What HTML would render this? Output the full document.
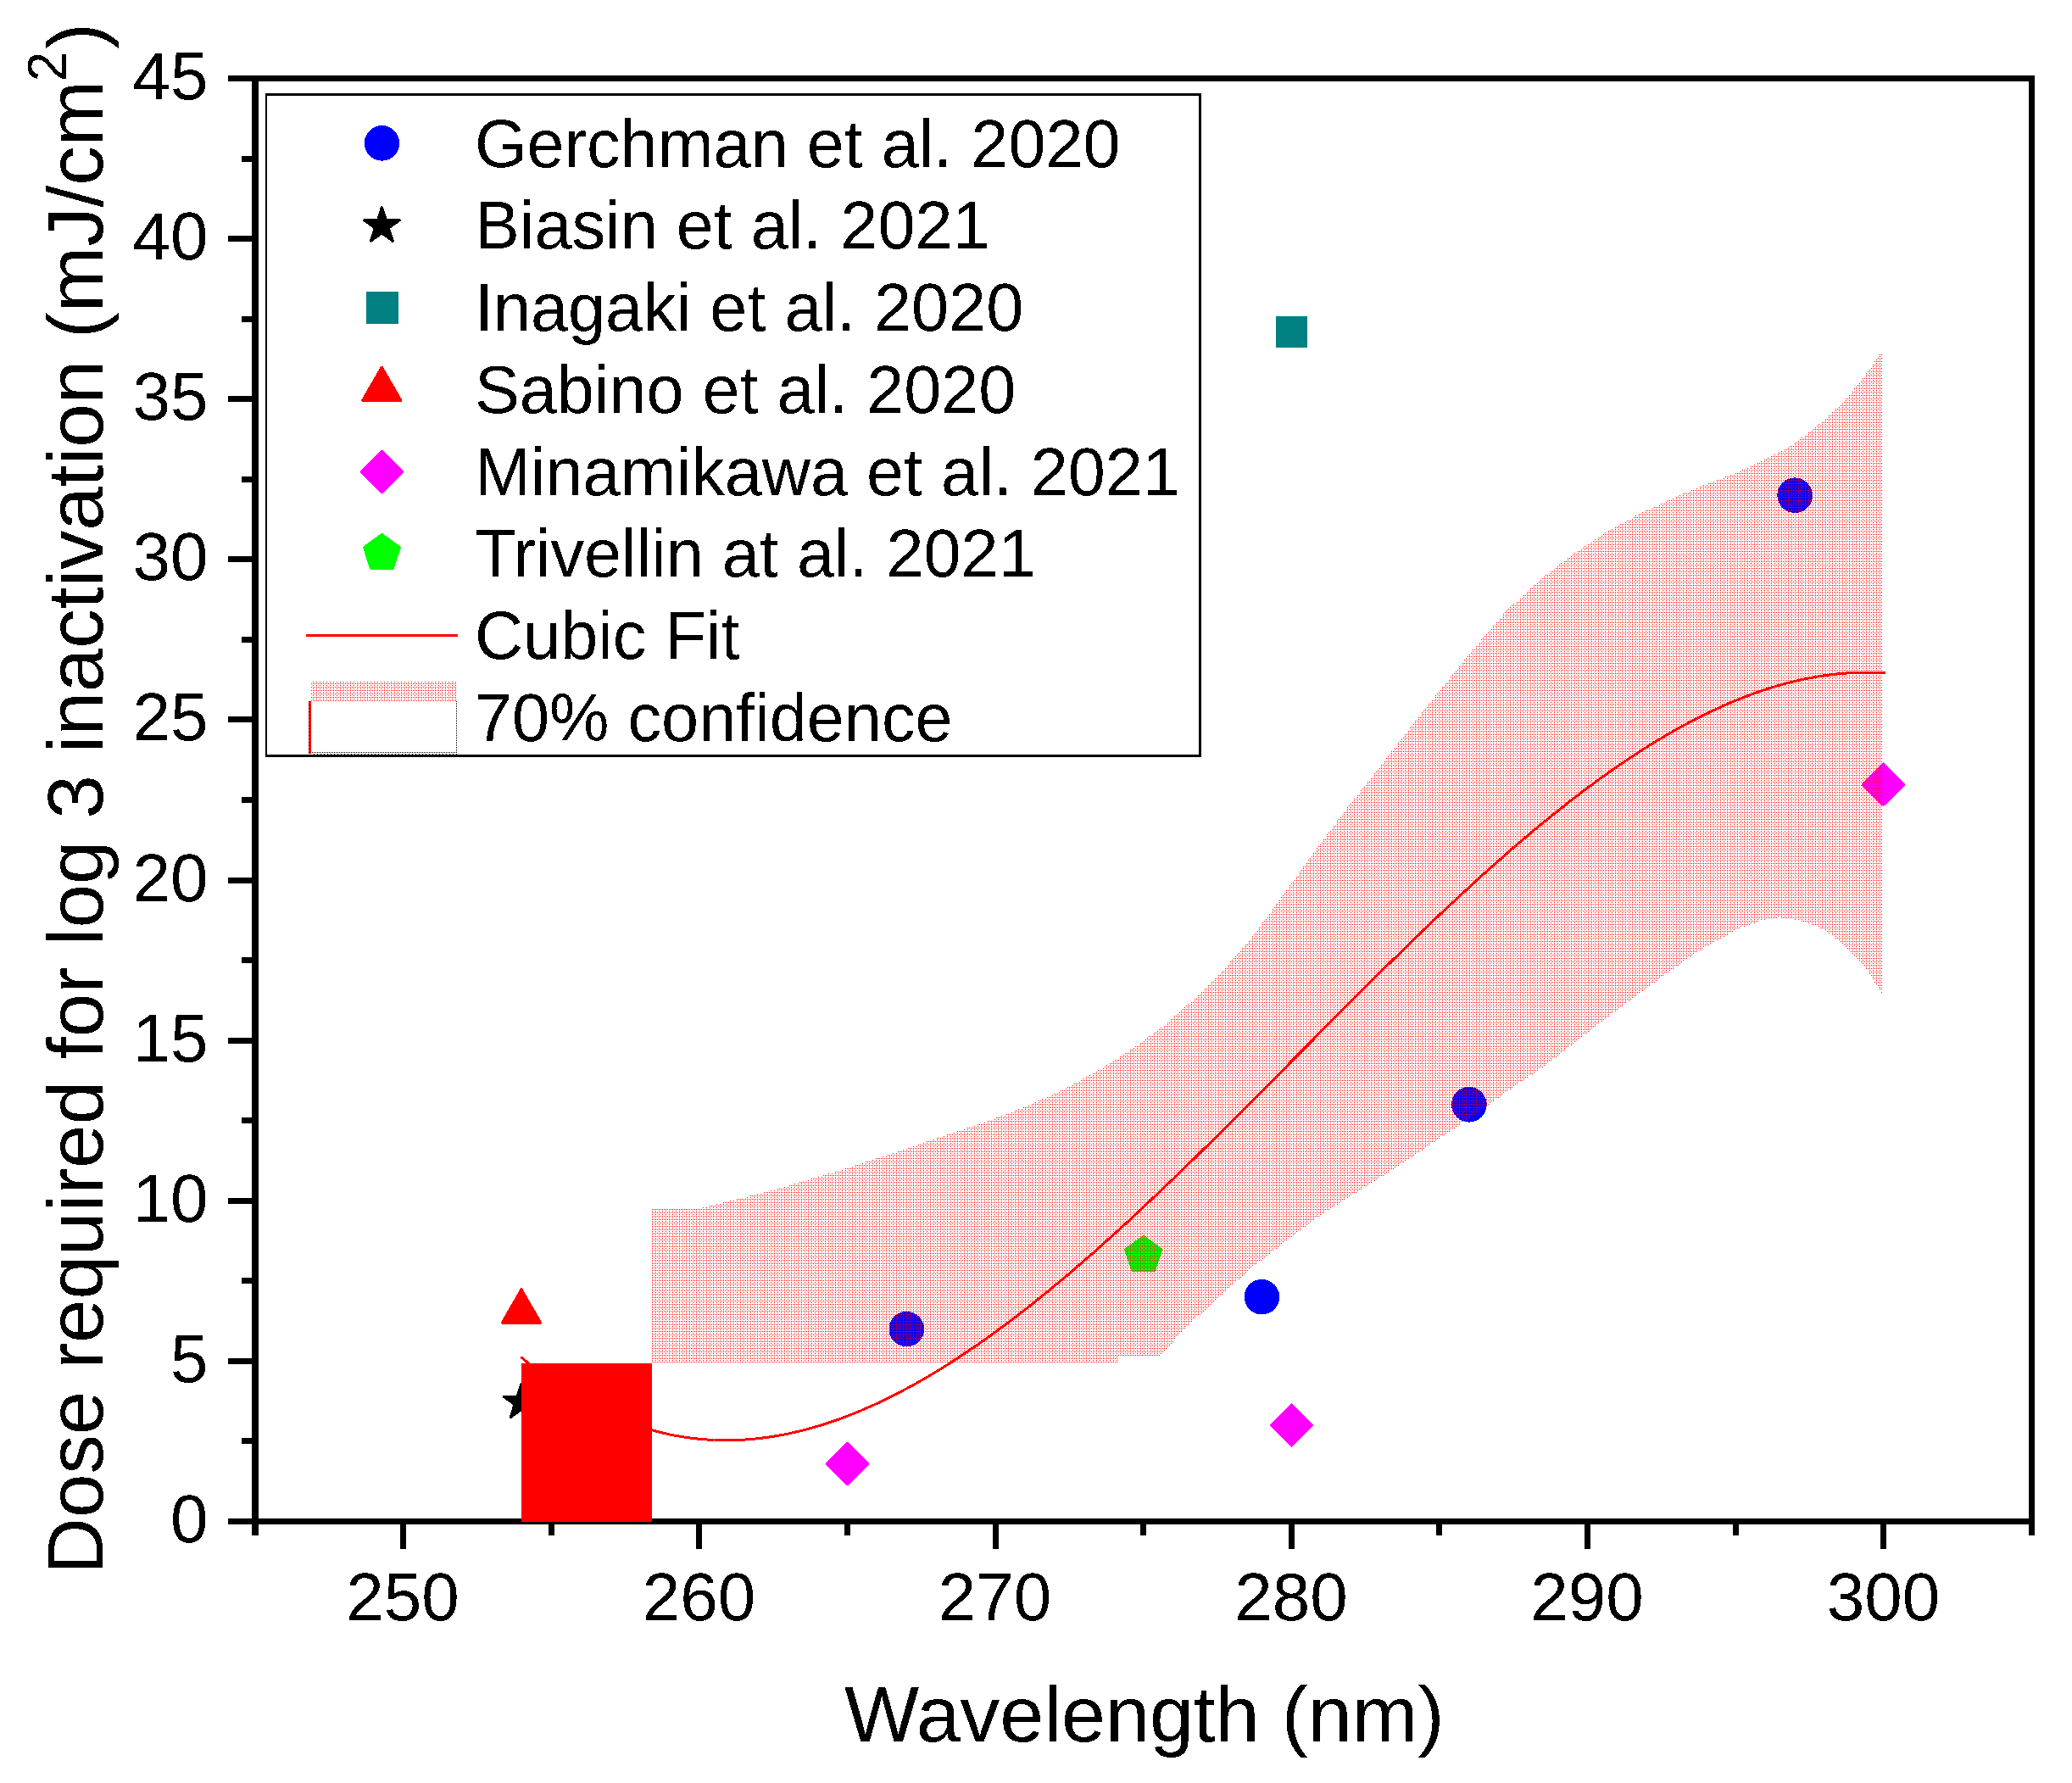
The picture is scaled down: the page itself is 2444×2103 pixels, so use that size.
<!DOCTYPE html>
<html lang="en"><head><meta charset="utf-8"><title>Dose required for log 3 inactivation vs wavelength</title>
<style>html,body{margin:0;padding:0;background:#fff}body{width:2444px;height:2103px;overflow:hidden}svg{display:block}text{font-family:'Liberation Sans', sans-serif;fill:#000}</style></head><body>
<svg width="2444" height="2103" viewBox="0 0 2444 2103">
<defs><pattern id="dots" x="0" y="0" width="4" height="4" patternUnits="userSpaceOnUse"><g fill="#ff0000" shape-rendering="crispEdges"><rect x="1" y="0" width="1" height="1"/><rect x="1" y="2" width="1" height="1"/><rect x="3" y="2" width="1" height="1"/></g></pattern><filter id="alias" x="-5%" y="-5%" width="110%" height="110%" color-interpolation-filters="sRGB"><feComponentTransfer><feFuncA type="discrete" tableValues="0 1"/></feComponentTransfer></filter></defs>
<rect width="2444" height="2103" fill="#fff"/>
<g id="axes" fill="#000" shape-rendering="crispEdges">
<rect x="297" y="89" width="8" height="1722"/>
<rect x="2393" y="89" width="7" height="1722"/>
<rect x="269" y="89" width="2131" height="7"/>
<rect x="269" y="1791" width="2131" height="7"/>
<rect x="285" y="1696" width="14" height="7"/>
<rect x="269" y="1602" width="30" height="7"/>
<rect x="285" y="1507" width="14" height="7"/>
<rect x="269" y="1413" width="30" height="7"/>
<rect x="285" y="1318" width="14" height="7"/>
<rect x="269" y="1224" width="30" height="7"/>
<rect x="285" y="1129" width="14" height="7"/>
<rect x="269" y="1035" width="30" height="7"/>
<rect x="285" y="940" width="14" height="7"/>
<rect x="269" y="845" width="30" height="7"/>
<rect x="285" y="751" width="14" height="7"/>
<rect x="269" y="656" width="30" height="7"/>
<rect x="285" y="562" width="14" height="7"/>
<rect x="269" y="467" width="30" height="7"/>
<rect x="285" y="373" width="14" height="7"/>
<rect x="269" y="278" width="30" height="7"/>
<rect x="285" y="184" width="14" height="7"/>
<rect x="472" y="1795" width="7" height="32"/>
<rect x="647" y="1795" width="7" height="16"/>
<rect x="821" y="1795" width="7" height="32"/>
<rect x="996" y="1795" width="7" height="16"/>
<rect x="1171" y="1795" width="7" height="32"/>
<rect x="1345" y="1795" width="7" height="16"/>
<rect x="1520" y="1795" width="7" height="32"/>
<rect x="1694" y="1795" width="7" height="16"/>
<rect x="1869" y="1795" width="7" height="32"/>
<rect x="2044" y="1795" width="7" height="16"/>
<rect x="2218" y="1795" width="7" height="32"/>
</g>
<g id="ticklabels" font-size="80" filter="url(#alias)">
<text x="245.5" y="1819.0" text-anchor="end">0</text>
<text x="245.5" y="1629.9" text-anchor="end">5</text>
<text x="245.5" y="1440.8" text-anchor="end">10</text>
<text x="245.5" y="1251.7" text-anchor="end">15</text>
<text x="245.5" y="1062.6" text-anchor="end">20</text>
<text x="245.5" y="873.4" text-anchor="end">25</text>
<text x="245.5" y="684.3" text-anchor="end">30</text>
<text x="245.5" y="495.2" text-anchor="end">35</text>
<text x="245.5" y="306.1" text-anchor="end">40</text>
<text x="245.5" y="117.0" text-anchor="end">45</text>
<text x="475.1" y="1911" text-anchor="middle">250</text>
<text x="824.4" y="1911" text-anchor="middle">260</text>
<text x="1173.6" y="1911" text-anchor="middle">270</text>
<text x="1522.9" y="1911" text-anchor="middle">280</text>
<text x="1872.1" y="1911" text-anchor="middle">290</text>
<text x="2221.4" y="1911" text-anchor="middle">300</text>
</g>
<text id="xtitle" filter="url(#alias)" x="1349.8" y="2054" font-size="93.4" text-anchor="middle">Wavelength (nm)</text>
<text id="ytitle" filter="url(#alias)" transform="translate(121,1857) rotate(-90)" font-size="92.7">Dose required for log 3 inactivation (mJ/cm<tspan font-size="64" dy="-43" dx="-1">2</tspan><tspan dy="43" dx="2.5">)</tspan></text>
<g id="points" shape-rendering="crispEdges">
<circle cx="1069.3" cy="1567.6" r="20.8" fill="#0000ff"/>
<circle cx="1488.4" cy="1529.7" r="20.8" fill="#0000ff"/>
<circle cx="1732.9" cy="1302.8" r="20.8" fill="#0000ff"/>
<circle cx="2117.1" cy="584.2" r="20.8" fill="#0000ff"/>
<polygon points="615.0,1632.0 619.9,1647.2 635.9,1647.2 623.0,1656.6 627.9,1671.8 615.0,1662.4 602.1,1671.8 607.0,1656.6 594.1,1647.2 610.1,1647.2" fill="#000" stroke="#000" stroke-width="3" stroke-linejoin="round"/>
<rect x="1505.2" y="373.0" width="37" height="37" fill="#008080" shape-rendering="crispEdges"/>
<polygon points="615.0,1520.8 637.6,1560.0 592.4,1560.0" fill="#ff0000" stroke="#ff0000" stroke-width="3" stroke-linejoin="round"/>
<polygon points="999.5,1702.4 1023.7,1726.6 999.5,1750.8 975.3,1726.6" fill="#ff00ff" stroke="#ff00ff" stroke-width="3" stroke-linejoin="round"/>
<polygon points="1523.4,1656.8 1547.6,1681.0 1523.4,1705.2 1499.2,1681.0" fill="#ff00ff" stroke="#ff00ff" stroke-width="3" stroke-linejoin="round"/>
<polygon points="2221.5,901.0 2245.7,925.2 2221.5,949.4 2197.3,925.2" fill="#ff00ff" stroke="#ff00ff" stroke-width="3" stroke-linejoin="round"/>
<polygon points="1348.8,1458.5 1369.7,1473.7 1361.7,1498.3 1335.8,1498.3 1327.8,1473.7" fill="#00ff00" stroke="#00ff00" stroke-width="3" stroke-linejoin="round"/>
</g>
<rect x="615" y="1608" width="154" height="187" fill="#ff0000" shape-rendering="crispEdges"/>
<polygon id="band" fill="url(#dots)" shape-rendering="crispEdges" points="769.0,1426.0 816.0,1426.5 837.0,1422.5 876.0,1412.9 914.0,1403.2 953.0,1391.7 992.0,1380.1 1030.0,1367.5 1069.0,1355.0 1107.5,1341.5 1138.6,1331.4 1177.2,1317.9 1215.8,1302.5 1254.4,1285.1 1293.1,1263.9 1331.7,1239.7 1370.3,1211.7 1408.9,1177.9 1447.5,1139.0 1480.0,1101.5 1508.6,1062.0 1547.2,1009.0 1585.8,956.9 1624.4,908.6 1663.1,858.5 1701.7,810.2 1738.6,764.5 1777.2,720.1 1815.8,684.4 1854.4,654.4 1893.1,628.4 1931.7,607.1 1970.3,588.8 2008.9,572.4 2047.5,557.9 2078.6,543.8 2097.9,534.2 2117.2,522.6 2136.5,508.1 2155.8,491.7 2175.1,473.4 2194.4,450.2 2208.9,429.9 2217.6,417.9 2220.0,414.5 2220.0,1172.0 2217.6,1167.5 2211.5,1159.4 2207.6,1151.6 2201.4,1143.5 2195.2,1135.5 2187.5,1127.6 2178.9,1119.5 2171.2,1111.5 2161.1,1103.6 2149.5,1095.5 2139.5,1091.5 2129.4,1087.5 2121.7,1085.6 2109.3,1083.5 2098.5,1082.3 2079.2,1085.0 2050.3,1095.6 2011.7,1116.8 1973.1,1142.9 1934.4,1170.9 1895.8,1199.8 1857.2,1229.8 1818.6,1259.7 1786.1,1281.3 1747.5,1309.3 1708.9,1335.3 1670.3,1361.4 1631.7,1386.5 1593.1,1410.6 1554.4,1435.7 1515.8,1464.7 1477.2,1494.6 1438.6,1529.3 1400.0,1565.0 1368.0,1599.0 1318.0,1599.0 1318.0,1607.0 769.0,1607.0"/>
<polyline id="fit" fill="none" stroke="#ff0000" stroke-width="3" stroke-linecap="round" stroke-linejoin="round" shape-rendering="crispEdges" points="615.3,1601.3 624.1,1608.5 632.8,1615.5 641.5,1622.2 650.3,1628.6 659.0,1634.7 667.7,1640.5 676.5,1645.9 685.2,1651.1 694.0,1656.1 702.7,1660.7 711.4,1665.0 720.2,1669.1 728.9,1672.9 737.6,1676.4 746.4,1679.7 755.1,1682.7 763.9,1685.4 772.6,1687.8 781.3,1690.0 790.1,1692.0 798.8,1693.7 807.5,1695.1 816.3,1696.3 825.0,1697.3 833.7,1698.0 842.5,1698.5 851.2,1698.8 860.0,1698.8 868.7,1698.6 877.4,1698.1 886.2,1697.5 894.9,1696.6 903.6,1695.5 912.4,1694.2 921.1,1692.7 929.9,1691.0 938.6,1689.0 947.3,1686.9 956.1,1684.6 964.8,1682.1 973.5,1679.4 982.3,1676.5 991.0,1673.4 999.8,1670.1 1008.5,1666.7 1017.2,1663.0 1026.0,1659.2 1034.7,1655.3 1043.4,1651.1 1052.2,1646.8 1060.9,1642.3 1069.6,1637.7 1078.4,1632.9 1087.1,1628.0 1095.9,1622.9 1104.6,1617.7 1113.3,1612.3 1122.1,1606.8 1130.8,1601.1 1139.5,1595.3 1148.3,1589.4 1157.0,1583.3 1165.8,1577.1 1174.5,1570.8 1183.2,1564.4 1192.0,1557.8 1200.7,1551.2 1209.4,1544.4 1218.2,1537.5 1226.9,1530.5 1235.6,1523.4 1244.4,1516.2 1253.1,1509.0 1261.9,1501.6 1270.6,1494.1 1279.3,1486.5 1288.1,1478.9 1296.8,1471.2 1305.5,1463.4 1314.3,1455.5 1323.0,1447.5 1331.8,1439.5 1340.5,1431.4 1349.2,1423.2 1358.0,1415.0 1366.7,1406.7 1375.4,1398.4 1384.2,1390.0 1392.9,1381.6 1401.6,1373.1 1410.4,1364.6 1419.1,1356.0 1427.9,1347.4 1436.6,1338.8 1445.3,1330.1 1454.1,1321.4 1462.8,1312.7 1471.5,1303.9 1480.3,1295.2 1489.0,1286.4 1497.8,1277.6 1506.5,1268.8 1515.2,1260.0 1524.0,1251.1 1532.7,1242.3 1541.4,1233.5 1550.2,1224.7 1558.9,1215.9 1567.7,1207.1 1576.4,1198.3 1585.1,1189.5 1593.9,1180.8 1602.6,1172.1 1611.3,1163.3 1620.1,1154.7 1628.8,1146.0 1637.5,1137.4 1646.3,1128.9 1655.0,1120.3 1663.8,1111.8 1672.5,1103.4 1681.2,1095.0 1690.0,1086.6 1698.7,1078.4 1707.4,1070.1 1716.2,1062.0 1724.9,1053.8 1733.7,1045.8 1742.4,1037.8 1751.1,1029.9 1759.9,1022.1 1768.6,1014.4 1777.3,1006.7 1786.1,999.1 1794.8,991.6 1803.5,984.2 1812.3,976.9 1821.0,969.7 1829.8,962.6 1838.5,955.6 1847.2,948.7 1856.0,941.9 1864.7,935.2 1873.4,928.7 1882.2,922.2 1890.9,915.9 1899.7,909.7 1908.4,903.6 1917.1,897.6 1925.9,891.8 1934.6,886.1 1943.3,880.6 1952.1,875.2 1960.8,869.9 1969.6,864.8 1978.3,859.8 1987.0,855.0 1995.8,850.4 2004.5,845.9 2013.2,841.5 2022.0,837.4 2030.7,833.4 2039.4,829.5 2048.2,825.9 2056.9,822.4 2065.7,819.1 2074.4,816.0 2083.1,813.0 2091.9,810.3 2100.6,807.7 2109.3,805.4 2118.1,803.2 2126.8,801.3 2135.6,799.5 2144.3,798.0 2153.0,796.6 2161.8,795.5 2170.5,794.6 2179.2,793.9 2188.0,793.4 2196.7,793.2 2205.4,793.1 2214.2,793.3 2222.9,793.8"/>
<g id="legend" shape-rendering="crispEdges">
<g fill="#000" shape-rendering="crispEdges"><rect x="313" y="110" width="1104" height="783" fill="#fff"/><rect x="313" y="110" width="1104" height="3"/><rect x="313" y="890" width="1104" height="3"/><rect x="313" y="110" width="2" height="783"/><rect x="1414" y="110" width="3" height="783"/></g>
<circle cx="450.5" cy="168.9" r="20.8" fill="#0000ff"/>
<polygon points="450.4,244.5 455.3,259.7 471.3,259.7 458.4,269.1 463.3,284.3 450.4,274.9 437.5,284.3 442.4,269.1 429.5,259.7 445.5,259.7" fill="#000" stroke="#000" stroke-width="3" stroke-linejoin="round"/>
<rect x="431.8" y="344.0" width="38" height="38" fill="#008080" shape-rendering="crispEdges"/>
<polygon points="450.3,433.1 472.9,472.3 427.7,472.3" fill="#ff0000" stroke="#ff0000" stroke-width="3" stroke-linejoin="round"/>
<polygon points="450.3,532.2 474.5,556.4 450.3,580.6 426.1,556.4" fill="#ff00ff" stroke="#ff00ff" stroke-width="3" stroke-linejoin="round"/>
<polygon points="450.4,630.4 471.3,645.6 463.3,670.2 437.5,670.2 429.5,645.6" fill="#00ff00" stroke="#00ff00" stroke-width="3" stroke-linejoin="round"/>
<rect x="361" y="748" width="179" height="3" fill="#ff0000" shape-rendering="crispEdges"/>
<rect x="367" y="804" width="172" height="23" fill="url(#dots)"/>
<rect x="364" y="827" width="3" height="62" fill="#ff0000" shape-rendering="crispEdges"/>
<line x1="364.5" y1="827" x2="364.5" y2="889" stroke="#000" stroke-width="1" stroke-dasharray="1 3" shape-rendering="crispEdges"/>
<line x1="538.5" y1="827" x2="538.5" y2="889" stroke="#000" stroke-width="1" stroke-dasharray="1 1" shape-rendering="crispEdges"/>
<line x1="368" y1="887.5" x2="539" y2="887.5" stroke="#000" stroke-width="1" stroke-dasharray="1 1" shape-rendering="crispEdges"/>
<line x1="370" y1="889.5" x2="539" y2="889.5" stroke="#000" stroke-width="1" stroke-dasharray="1 3" shape-rendering="crispEdges"/>
<g font-size="79.2" filter="url(#alias)">
<text x="560" y="196.6">Gerchman et al. 2020</text>
<text x="560" y="293.3">Biasin et al. 2021</text>
<text x="560" y="390.1">Inagaki et al. 2020</text>
<text x="560" y="486.8">Sabino et al. 2020</text>
<text x="560" y="583.5">Minamikawa et al. 2021</text>
<text x="560" y="680.2">Trivellin at al. 2021</text>
<text x="560" y="777.0">Cubic Fit</text>
<text x="560" y="873.7">70% confidence</text>
</g></g>
</svg></body></html>
